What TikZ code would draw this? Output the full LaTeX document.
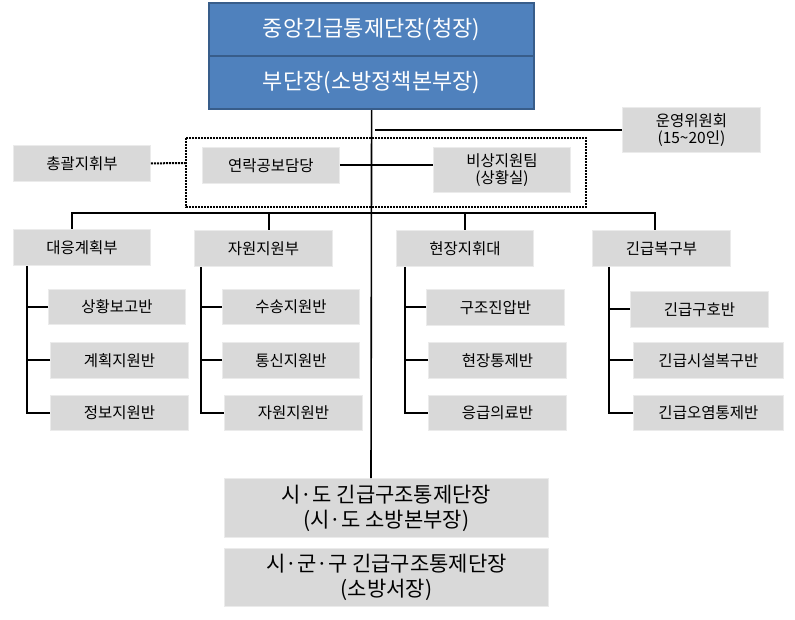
\documentclass[tikz,border=0pt]{standalone}
\usepackage{fontspec}
\setmainfont{Noto Sans CJK KR}
\usetikzlibrary{calc}
\definecolor{topblue}{HTML}{4F81BD}
\definecolor{topedge}{HTML}{385D8A}
\definecolor{boxgray}{HTML}{D9D9D9}
\begin{document}
\begin{tikzpicture}[x=1pt,y=-1pt,
  gbox/.style={fill=boxgray, draw=white!92!black, line width=0.8pt, inner sep=0pt, anchor=north west, align=center, font=\fontsize{15.5}{17.5}\selectfont},
  bigbox/.style={gbox, font=\fontsize{21}{25}\selectfont},
  topbox/.style={fill=topblue, draw=topedge, line width=2.2pt, inner sep=0pt, anchor=north west, text=white, font=\fontsize{22}{26}\selectfont, minimum width=325pt, minimum height=53pt},
  conn/.style={line width=2pt, black},
  thin/.style={line width=1.6pt, black}]
\useasboundingbox (0,0) rectangle (795,620);
% top
\node[topbox] (top1) at (208,2) {중앙긴급통제단장(청장)};
\node[topbox] (top2) at (208,55) {부단장(소방정책본부장)};
% gray boxes
\node[gbox, minimum width=138pt, minimum height=45pt] (unyoung) at (622,107) {운영위원회\\(15\textasciitilde 20인)};
\node[gbox, minimum width=137pt, minimum height=36pt] (chong) at (13,145) {총괄지휘부};
\node[gbox, minimum width=137pt, minimum height=36pt] (yeon) at (202,147) {연락공보담당};
\node[gbox, minimum width=137pt, minimum height=45pt] (bisang) at (433,147) {비상지원팀\\(상황실)};
\node[gbox, minimum width=137pt, minimum height=36pt] (dae) at (13,229) {대응계획부};
\node[gbox, minimum width=138pt, minimum height=36pt] (jaw) at (194,230) {자원지원부};
\node[gbox, minimum width=137pt, minimum height=36pt] (hyeon) at (396,230) {현장지휘대};
\node[gbox, minimum width=138pt, minimum height=36pt] (gin) at (592,230) {긴급복구부};
\node[gbox, minimum width=137pt, minimum height=35pt] (c1a) at (48,289) {상황보고반};
\node[gbox, minimum width=138pt, minimum height=36pt] (c1b) at (50,342) {계획지원반};
\node[gbox, minimum width=138pt, minimum height=35pt] (c1c) at (50,395) {정보지원반};
\node[gbox, minimum width=137pt, minimum height=35pt] (c2a) at (222,289) {수송지원반};
\node[gbox, minimum width=137pt, minimum height=36pt] (c2b) at (222,342) {통신지원반};
\node[gbox, minimum width=138pt, minimum height=35pt] (c2c) at (224,395) {자원지원반};
\node[gbox, minimum width=138pt, minimum height=36pt] (c3a) at (426,289) {구조진압반};
\node[gbox, minimum width=138pt, minimum height=36pt] (c3b) at (428,342) {현장통제반};
\node[gbox, minimum width=138pt, minimum height=35pt] (c3c) at (428,395) {응급의료반};
\node[gbox, minimum width=138pt, minimum height=36pt] (c4a) at (630,291) {긴급구호반};
\node[gbox, minimum width=150pt, minimum height=36pt] (c4b) at (633,342) {긴급시설복구반};
\node[gbox, minimum width=150pt, minimum height=35pt] (c4c) at (633,395) {긴급오염통제반};
\node[bigbox, minimum width=324pt, minimum height=59pt] (b1) at (224,478) {시·도 긴급구조통제단장\\(시·도 소방본부장)};
\node[bigbox, minimum width=324pt, minimum height=58pt] (b2) at (224,548) {시·군·구 긴급구조통제단장\\(소방서장)};
% dotted group
\draw[line width=2pt, densely dotted] (186,138) rectangle (586,207);
\coordinate (dotL) at (186,163);
\draw[line width=2pt, densely dotted] (chong.east) -- (dotL);
% main spine
\coordinate (spB) at (371,478);
\draw[thin] (top2.south) -- (spB);
\coordinate (opL) at (375,130);
\draw[conn] (opL) -- (opL -| unyoung.west);
\draw[conn] (yeon.east) -- (yeon.east -| bisang.west);
% bus
\coordinate (bL) at (72,213);
\coordinate (bR) at (655,213);
\coordinate (b2x) at (269,213);
\coordinate (b3x) at (465,213);
\draw[conn] (bL |- dae.north) -- (bL) -- (bR) -- (bR |- gin.north);
\draw[conn] (b2x) -- (b2x |- jaw.north);
\draw[conn] (b3x) -- (b3x |- hyeon.north);
% sub trees
\foreach \p/\x/\a/\b/\c in {dae/27/c1a/c1b/c1c, jaw/201/c2a/c2b/c2c, hyeon/405/c3a/c3b/c3c, gin/609/c4a/c4b/c4c}{
  \coordinate (v) at (\x,0);
  \draw[conn] (v |- \p.south) |- (\c.west);
  \draw[conn] (\a.west) -- (\a.west -| v);
  \draw[conn] (\b.west) -- (\b.west -| v);
}
\end{tikzpicture}
\end{document}
